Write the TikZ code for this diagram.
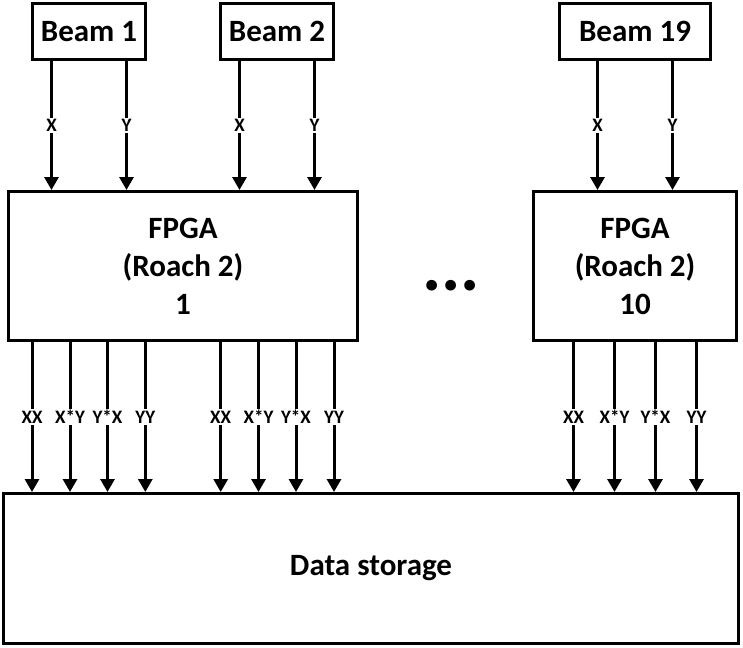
\documentclass[tikz,border=0pt]{standalone}
\usepackage{fontspec}
\setmainfont{Carlito}
\usetikzlibrary{arrows.meta}
\tikzset{
  unit/.style={draw,line width=3pt,rectangle,align=center,inner sep=0pt,
    font=\fontsize{31}{38}\selectfont\bfseries},
  sig/.style={-{Triangle[length=13pt,width=14pt]},line width=3pt},
  lbl/.style={fill=white,inner sep=1.5pt,font=\fontsize{19}{22}\selectfont\bfseries}
}

\begin{document}
\begin{tikzpicture}[x=1pt,y=-1pt]
\useasboundingbox (0,0) rectangle (743,647);

\node[unit,minimum width=113pt,minimum height=56pt] (beam1) at (89,31.5) {Beam 1};
\node[unit,minimum width=113pt,minimum height=56pt] (beam2) at (277,31.5) {Beam 2};
\node[unit,minimum width=151pt,minimum height=56pt] (beam19) at (635,31.5) {Beam 19};

\node[unit,minimum width=349pt,minimum height=149pt] (fpga1) at (183,266) {FPGA\\(Roach 2)\\1};
\node[unit,minimum width=203pt,minimum height=149pt] (fpga10) at (635,266) {FPGA\\(Roach 2)\\10};
\node[font=\fontsize{72}{80}\selectfont\bfseries,inner sep=0pt] (dots) at (451,286) {...};

\node[unit,minimum width=735pt,minimum height=150pt] (store) at (371,568.5) {Data storage};

% beams to boards
\draw[sig] ([xshift=-37.5pt]beam1.south) -- node[lbl] {X} ([xshift=-37.5pt]beam1.south |- fpga1.north);
\draw[sig] ([xshift=37.5pt]beam1.south) -- node[lbl] {Y} ([xshift=37.5pt]beam1.south |- fpga1.north);
\draw[sig] ([xshift=-37.5pt]beam2.south) -- node[lbl] {X} ([xshift=-37.5pt]beam2.south |- fpga1.north);
\draw[sig] ([xshift=37.5pt]beam2.south) -- node[lbl] {Y} ([xshift=37.5pt]beam2.south |- fpga1.north);
\draw[sig] ([xshift=-37.5pt]beam19.south) -- node[lbl] {X} ([xshift=-37.5pt]beam19.south |- fpga10.north);
\draw[sig] ([xshift=37.5pt]beam19.south) -- node[lbl] {Y} ([xshift=37.5pt]beam19.south |- fpga10.north);

% boards to storage
\draw[sig] ([xshift=-151pt]fpga1.south) -- node[lbl] {XX} ([xshift=-151pt]fpga1.south |- store.north);
\draw[sig] ([xshift=-113pt]fpga1.south) -- node[lbl] {X*Y} ([xshift=-113pt]fpga1.south |- store.north);
\draw[sig] ([xshift=-75.5pt]fpga1.south) -- node[lbl] {Y*X} ([xshift=-75.5pt]fpga1.south |- store.north);
\draw[sig] ([xshift=-37.7pt]fpga1.south) -- node[lbl] {YY} ([xshift=-37.7pt]fpga1.south |- store.north);
\draw[sig] ([xshift=37.7pt]fpga1.south) -- node[lbl] {XX} ([xshift=37.7pt]fpga1.south |- store.north);
\draw[sig] ([xshift=75.5pt]fpga1.south) -- node[lbl] {X*Y} ([xshift=75.5pt]fpga1.south |- store.north);
\draw[sig] ([xshift=113pt]fpga1.south) -- node[lbl] {Y*X} ([xshift=113pt]fpga1.south |- store.north);
\draw[sig] ([xshift=151pt]fpga1.south) -- node[lbl] {YY} ([xshift=151pt]fpga1.south |- store.north);
\draw[sig] ([xshift=-61.5pt]fpga10.south) -- node[lbl] {XX} ([xshift=-61.5pt]fpga10.south |- store.north);
\draw[sig] ([xshift=-20.5pt]fpga10.south) -- node[lbl] {X*Y} ([xshift=-20.5pt]fpga10.south |- store.north);
\draw[sig] ([xshift=20.5pt]fpga10.south) -- node[lbl] {Y*X} ([xshift=20.5pt]fpga10.south |- store.north);
\draw[sig] ([xshift=61.5pt]fpga10.south) -- node[lbl] {YY} ([xshift=61.5pt]fpga10.south |- store.north);

\end{tikzpicture}
\end{document}
